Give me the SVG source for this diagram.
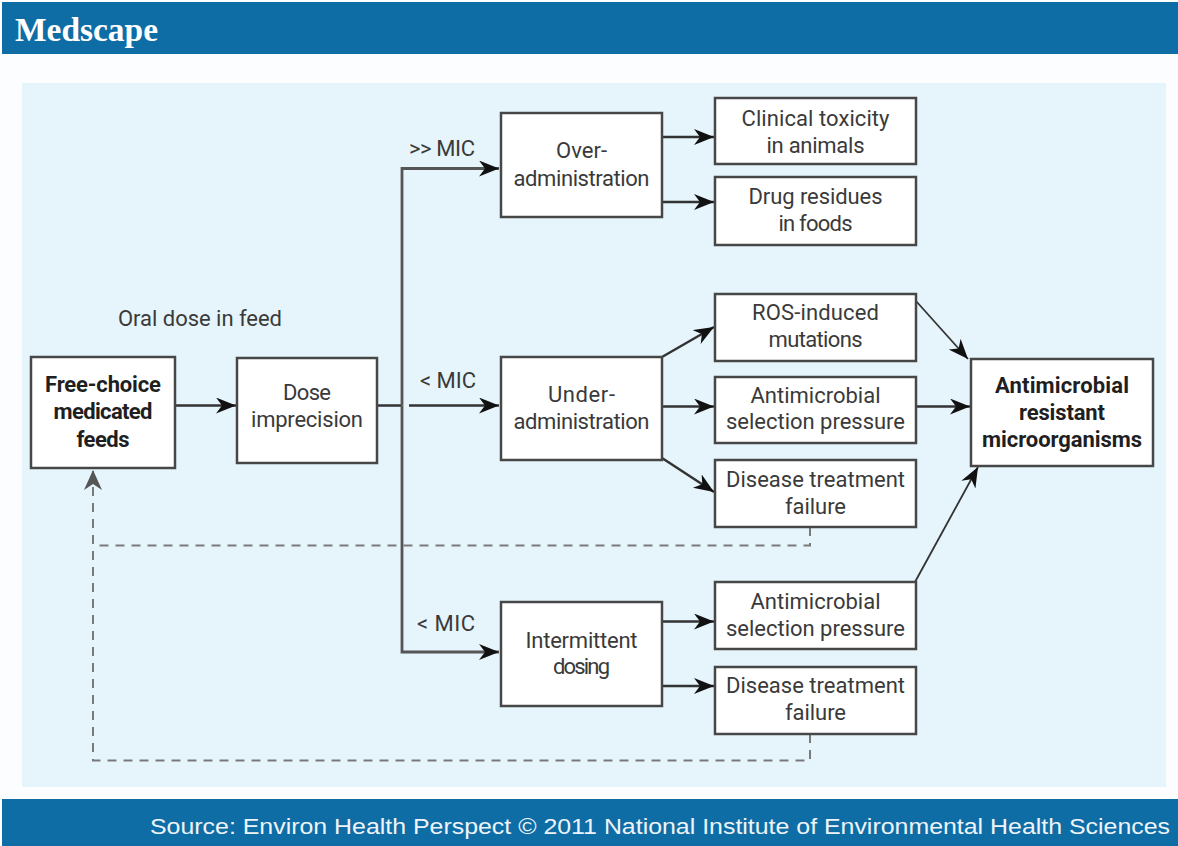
<svg xmlns="http://www.w3.org/2000/svg" width="1178" height="846" viewBox="0 0 1178 846">
  <style>
    .bar { fill: #0f6da6; }
    .panel { fill: #e6f4fb; }
    .box { fill: #ffffff; stroke: #474747; stroke-width: 2.5; }
    .t { font-family: Roboto, "Liberation Sans", "DejaVu Sans", sans-serif; font-size: 22px; fill: #3a3a3a; text-anchor: middle; }
    .b { font-weight: bold; fill: #1f1f1f; }
    .lbl { font-family: Roboto, "Liberation Sans", "DejaVu Sans", sans-serif; font-size: 22px; fill: #3a3a3a; text-anchor: middle; }
    .edge { fill: none; stroke: #333333; stroke-width: 2.5; }
    .thin { stroke-width: 1.8; }
    .trunk { fill: none; stroke: #555555; stroke-width: 2.8; }
    .dash { fill: none; stroke: #7a7a7a; stroke-width: 2; stroke-dasharray: 9 7; }
  </style>
  <defs>
    <marker id="arrow" markerUnits="userSpaceOnUse" markerWidth="22" markerHeight="18" refX="20" refY="8" orient="auto">
      <path d="M0,0 L20,8 L0,16 L6,8 Z" fill="#111111"/>
    </marker>
    <marker id="arrowGrey" markerUnits="userSpaceOnUse" markerWidth="22" markerHeight="20" refX="20" refY="9" orient="auto">
      <path d="M0,0 L20,9 L0,18 L6,9 Z" fill="#555555"/>
    </marker>
  </defs>

  <!-- page background, header and footer bands -->
  <rect x="0" y="0" width="1178" height="846" fill="#ffffff"/>
  <rect x="0" y="54" width="1178" height="745" fill="#fbfdff"/>
  <rect class="bar" x="2" y="2" width="1176" height="52"/>
  <text x="15" y="41" font-family="'Liberation Serif', 'DejaVu Serif', serif" font-size="33" font-weight="bold" fill="#ffffff" textLength="143" lengthAdjust="spacingAndGlyphs">Medscape</text>
  <rect class="panel" x="22" y="83" width="1144" height="704"/>
  <rect class="bar" x="2" y="799" width="1176" height="47"/>
  <text x="150" y="834" font-family="'Liberation Sans', Arial, sans-serif" font-size="22" fill="#eef4fa" textLength="1020" lengthAdjust="spacingAndGlyphs">Source: Environ Health Perspect © 2011 National Institute of Environmental Health Sciences</text>

  <!-- connectors -->
  <g id="connectors">
    <path class="edge" d="M175,405.5 H236" marker-end="url(#arrow)"/>
    <path class="edge" d="M377,405.5 H402"/>
    <path class="trunk" d="M402,405.5 V168.5 H499" marker-end="url(#arrow)"/>
    <path class="trunk" d="M402,405.5 V652 H499" marker-end="url(#arrow)"/>
    <path class="edge" d="M409,405.5 H499" marker-end="url(#arrow)"/>

    <path class="edge" d="M662,137 H714" marker-end="url(#arrow)"/>
    <path class="edge" d="M662,202 H714" marker-end="url(#arrow)"/>

    <path class="edge" d="M662,357 L714,327" marker-end="url(#arrow)"/>
    <path class="edge" d="M662,406.5 H714" marker-end="url(#arrow)"/>
    <path class="edge" d="M662,458 L714,492" marker-end="url(#arrow)"/>

    <path class="edge thin" d="M916,301 L968,359" marker-end="url(#arrow)"/>
    <path class="edge" d="M916,406.5 H970" marker-end="url(#arrow)"/>
    <path class="edge thin" d="M915,582 L978,467" marker-end="url(#arrow)"/>

    <path class="edge" d="M662,621.5 H714" marker-end="url(#arrow)"/>
    <path class="edge" d="M662,686 H714" marker-end="url(#arrow)"/>

    <path class="dash" d="M810,527 V545.5 H93"/>
    <path class="dash" d="M810,734 V760.5 H93 V470" marker-end="url(#arrowGrey)"/>
  </g>

  <!-- branch labels -->
  <g id="labels">
    <text class="lbl" x="200" y="326" textLength="164">Oral dose in feed</text>
    <text class="lbl" x="442" y="156" textLength="66">&gt;&gt; MIC</text>
    <text class="lbl" x="448" y="388" textLength="56">&lt; MIC</text>
    <text class="lbl" x="446" y="631" textLength="58">&lt; MIC</text>
  </g>

  <!-- nodes -->
  <g id="free-choice">
    <rect class="box" x="31" y="357" width="144" height="111"/>
    <text class="t b" x="103" y="392" textLength="116">Free-choice</text>
    <text class="t b" x="103" y="419" textLength="99">medicated</text>
    <text class="t b" x="103" y="446.5" textLength="53">feeds</text>
  </g>
  <g id="dose-imprecision">
    <rect class="box" x="237" y="358" width="140" height="105"/>
    <text class="t" x="307" y="400" textLength="48">Dose</text>
    <text class="t" x="307" y="426.5" textLength="112">imprecision</text>
  </g>
  <g id="over-administration">
    <rect class="box" x="501" y="113" width="161" height="104"/>
    <text class="t" x="581.5" y="158" textLength="51">Over-</text>
    <text class="t" x="581.5" y="186" textLength="136">administration</text>
  </g>
  <g id="clinical-toxicity">
    <rect class="box" x="715" y="98" width="201" height="66"/>
    <text class="t" x="815.5" y="125.5" textLength="148">Clinical toxicity</text>
    <text class="t" x="815.5" y="152.5" textLength="98">in animals</text>
  </g>
  <g id="drug-residues">
    <rect class="box" x="715" y="177" width="201" height="68"/>
    <text class="t" x="815.5" y="204" textLength="134">Drug residues</text>
    <text class="t" x="815.5" y="231" textLength="74">in foods</text>
  </g>
  <g id="under-administration">
    <rect class="box" x="501" y="357" width="161" height="103"/>
    <text class="t" x="581.5" y="401.5" textLength="67">Under-</text>
    <text class="t" x="581.5" y="428.5" textLength="136">administration</text>
  </g>
  <g id="ros-mutations">
    <rect class="box" x="715" y="294" width="201" height="67"/>
    <text class="t" x="815.5" y="320" textLength="127">ROS-induced</text>
    <text class="t" x="815.5" y="347" textLength="94">mutations</text>
  </g>
  <g id="selection-pressure-1">
    <rect class="box" x="715" y="377" width="201" height="66"/>
    <text class="t" x="815.5" y="403" textLength="130">Antimicrobial</text>
    <text class="t" x="815.5" y="429" textLength="179">selection pressure</text>
  </g>
  <g id="treatment-failure-1">
    <rect class="box" x="715" y="460" width="201" height="67"/>
    <text class="t" x="815.5" y="487" textLength="179">Disease treatment</text>
    <text class="t" x="815.5" y="514" textLength="61">failure</text>
  </g>
  <g id="intermittent-dosing">
    <rect class="box" x="501" y="602" width="161" height="104"/>
    <text class="t" x="581.5" y="647.5" textLength="112">Intermittent</text>
    <text class="t" x="581.5" y="674" textLength="57">dosing</text>
  </g>
  <g id="selection-pressure-2">
    <rect class="box" x="715" y="582" width="201" height="67"/>
    <text class="t" x="815.5" y="609" textLength="130">Antimicrobial</text>
    <text class="t" x="815.5" y="636" textLength="179">selection pressure</text>
  </g>
  <g id="treatment-failure-2">
    <rect class="box" x="715" y="667" width="201" height="67"/>
    <text class="t" x="815.5" y="693" textLength="179">Disease treatment</text>
    <text class="t" x="815.5" y="720" textLength="61">failure</text>
  </g>
  <g id="resistant-microorganisms">
    <rect class="box" x="971" y="359" width="182" height="107"/>
    <text class="t b" x="1062" y="392.5" textLength="134">Antimicrobial</text>
    <text class="t b" x="1062" y="420" textLength="86">resistant</text>
    <text class="t b" x="1062" y="447" textLength="160">microorganisms</text>
  </g>
</svg>
